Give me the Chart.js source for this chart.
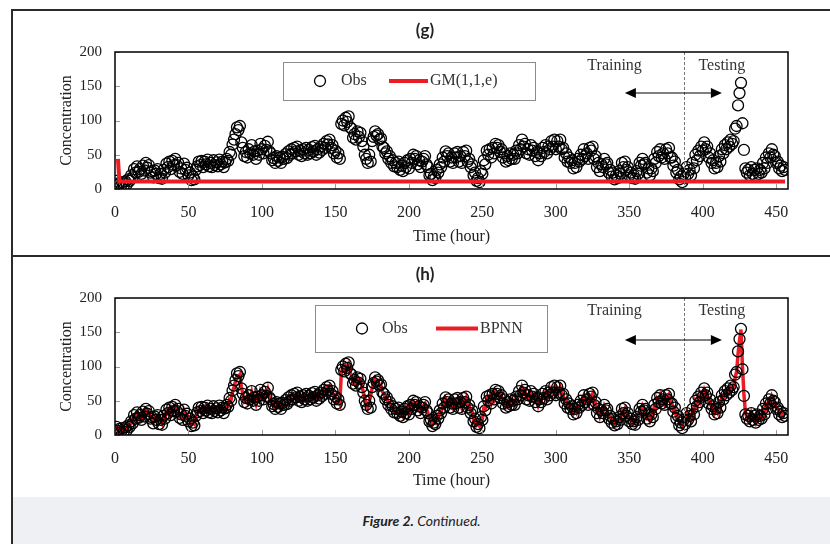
<!DOCTYPE html>
<html>
<head>
<meta charset="utf-8">
<script src="https://cdn.jsdelivr.net/npm/chart.js@4"></script>
<style>
  body { margin: 0; background: #fff; }
  #page { position: relative; width: 830px; height: 544px; overflow: hidden; }
  .frame { position: absolute; background: #2b2b2b; }
  #caption { position: absolute; left: 13px; top: 497px; width: 817px; height: 47px; background: #eef0f3;
    font-family: Lato, "Open Sans", sans-serif; font-size: 14px; font-style: italic; color: #222;
    text-align: center; line-height: 47px; }
  canvas { position: absolute; left: 0; }
</style>
</head>
<body>
<div id="page">
  <div id="caption"><b>Figure 2.</b> Continued.</div>
  <div class="frame" style="left:11px; top:9px; width:2px; height:535px;"></div>
  <div class="frame" style="left:11px; top:9px; width:819px; height:2px;"></div>
  <div class="frame" style="left:11px; top:255px; width:819px; height:2px;"></div>
  <canvas id="chartG" width="830" height="256" style="top:0;"></canvas>
  <canvas id="chartH" width="830" height="241" style="top:256px;"></canvas>
</div>
<script>
// observed concentration, hour 1..456
let obs = [
  12, 6, 9, 4, 10, 5, 11, 7, 14, 12,
  20, 17, 29, 24, 33, 25, 29, 22, 34, 27,
  38, 31, 35, 24, 26, 17, 27, 22, 29, 16,
  22, 15, 28, 24, 37, 32, 40, 29, 41, 35,
  44, 35, 38, 25, 30, 22, 37, 28, 31, 20,
  24, 13, 18, 14, 28, 33, 40, 35, 41, 32,
  40, 36, 43, 33, 38, 32, 42, 35, 39, 33,
  43, 36, 40, 32, 39, 44, 41, 54, 50, 65,
  72, 80, 90, 86, 92, 68, 60, 48, 54, 46,
  58, 52, 64, 50, 55, 44, 56, 50, 66, 58,
  52, 63, 57, 69, 55, 52, 42, 45, 38, 48,
  41, 46, 38, 47, 44, 51, 45, 55, 50, 58,
  52, 60, 55, 62, 50, 56, 48, 58, 52, 60,
  50, 57, 52, 61, 55, 63, 50, 58, 53, 62,
  57, 66, 60, 70, 65, 72, 60, 64, 52, 56,
  46, 52, 44, 95, 100, 93, 104, 98, 106, 90,
  88, 75, 80, 72, 84, 76, 82, 70, 62, 50,
  44, 38, 50, 40, 70, 76, 84, 78, 80, 72,
  74, 62, 60, 52, 55, 44, 48, 38, 42, 33,
  38, 32, 40, 28, 34, 26, 38, 32, 42, 30,
  44, 38, 50, 44, 48, 36, 42, 32, 40, 44,
  48, 36, 32, 20, 22, 13, 18, 16, 28, 24,
  36, 32, 46, 40, 55, 48, 52, 40, 46, 38,
  52, 46, 54, 40, 48, 38, 54, 48, 56, 40,
  44, 32, 36, 20, 24, 12, 16, 10, 26, 22,
  42, 36, 56, 50, 58, 46, 60, 52, 66, 60,
  64, 54, 58, 46, 52, 40, 48, 42, 52, 44,
  50, 44, 56, 52, 64, 58, 72, 62, 66, 52,
  58, 50, 64, 56, 60, 48, 54, 42, 52, 48,
  60, 54, 64, 52, 62, 58, 70, 62, 72, 58,
  70, 62, 72, 58, 60, 46, 52, 40, 46, 38,
  42, 30, 38, 32, 44, 40, 50, 44, 58, 48,
  52, 44, 60, 56, 62, 44, 48, 32, 38, 26,
  36, 32, 44, 36, 38, 24, 28, 18, 24, 14,
  20, 16, 26, 22, 38, 32, 40, 28, 32, 20,
  24, 16, 20, 15, 26, 22, 38, 34, 44, 36,
  38, 24, 30, 20, 30, 26, 44, 38, 54, 48,
  58, 46, 52, 44, 58, 52, 60, 46, 46, 34,
  40, 24, 28, 14, 18, 10, 22, 16, 32, 22,
  28, 20, 38, 30, 50, 42, 56, 48, 62, 56,
  68, 58, 62, 46, 52, 38, 42, 30, 38, 32,
  48, 40, 58, 52, 64, 58, 68, 62, 72, 66,
  70, 88, 92, 122, 140, 155, 96, 57, 30, 24,
  28, 20, 32, 22, 28, 18, 30, 22, 28, 24,
  38, 30, 46, 38, 52, 46, 58, 50, 48, 38,
  40, 30, 34, 26, 32, 28
];

// BPNN fitted values, hour 1..456
let bpnn = [
  13, 8, 9, 6, 9, 6, 10, 8, 13, 13,
  19, 18, 27, 25, 31, 26, 28, 24, 32, 28,
  36, 32, 34, 26, 25, 19, 26, 23, 27, 18,
  21, 17, 27, 25, 35, 33, 38, 31, 39, 36,
  42, 36, 37, 27, 29, 24, 35, 29, 30, 22,
  23, 15, 18, 16, 27, 33, 38, 36, 39, 33,
  39, 37, 41, 34, 37, 33, 40, 36, 38, 34,
  41, 37, 39, 34, 39, 43, 42, 52, 51, 63,
  70, 78, 86, 85, 88, 70, 60, 50, 53, 48,
  56, 53, 62, 52, 54, 46, 55, 51, 63, 58,
  53, 61, 58, 66, 56, 52, 44, 45, 40, 47,
  42, 45, 40, 46, 45, 50, 46, 54, 51, 57,
  53, 58, 56, 60, 52, 55, 50, 57, 53, 58,
  51, 56, 53, 59, 56, 61, 52, 57, 54, 60,
  58, 64, 61, 68, 65, 70, 61, 63, 54, 55,
  48, 51, 46, 90, 98, 94, 101, 98, 103, 91,
  87, 77, 79, 74, 82, 77, 80, 71, 63, 52,
  46, 40, 48, 58, 68, 75, 82, 78, 79, 73,
  72, 63, 60, 54, 54, 46, 47, 40, 41, 35,
  37, 34, 38, 30, 33, 28, 36, 33, 40, 32,
  42, 39, 48, 45, 47, 38, 41, 34, 39, 43,
  46, 38, 32, 22, 22, 15, 18, 17, 26, 25,
  34, 33, 44, 41, 53, 49, 51, 42, 45, 40,
  50, 47, 52, 42, 47, 40, 52, 48, 54, 42,
  43, 34, 35, 22, 23, 14, 16, 13, 24, 23,
  39, 38, 53, 51, 56, 48, 58, 53, 63, 60,
  62, 55, 57, 48, 51, 42, 47, 43, 50, 45,
  49, 45, 54, 53, 62, 59, 69, 63, 65, 54,
  57, 52, 62, 57, 59, 50, 53, 44, 51, 49,
  58, 55, 62, 54, 61, 59, 67, 63, 69, 60,
  67, 63, 69, 59, 59, 48, 51, 42, 45, 40,
  41, 32, 37, 33, 42, 41, 48, 45, 55, 49,
  51, 46, 58, 56, 60, 46, 47, 35, 37, 28,
  35, 33, 42, 37, 37, 26, 27, 20, 23, 16,
  19, 18, 25, 23, 36, 33, 38, 30, 31, 22,
  23, 18, 20, 17, 25, 23, 36, 34, 42, 37,
  37, 26, 29, 22, 29, 27, 42, 39, 52, 48,
  56, 47, 51, 45, 56, 53, 58, 48, 46, 36,
  39, 26, 27, 17, 18, 13, 21, 18, 30, 23,
  27, 22, 36, 31, 48, 43, 54, 49, 60, 57,
  65, 59, 61, 48, 51, 40, 41, 32, 37, 33,
  46, 41, 56, 53, 62, 59, 66, 63, 70, 67,
  70, 84, 92, 118, 138, 154, 100, 60, 33, 26,
  27, 22, 31, 24, 27, 20, 29, 23, 27, 25,
  36, 31, 44, 39, 50, 47, 56, 51, 48, 40,
  39, 32, 33, 28, 31, 29
];

// GM(1,1,e) is nearly flat after the first hours
let gmHours = [2, 3, 100, 200, 300, 400, 456];
let gmValues = [44, 11, 11, 11, 11, 11, 11];

let xTicks = [0, 50, 100, 150, 200, 250, 300, 350, 400, 450];
let yTicks = [0, 50, 100, 150, 200];
let splitHour = 387;

let red = "#ec1c24";
let serif = "'Liberation Serif', 'Times New Roman', serif";

function pts(xs, ys) {
  return ys.map((v, i) => ({ x: xs[i], y: v }));
}
let hours = obs.map((v, i) => i + 1);

// box, inner ticks, legend, training/testing marks
function decorPlugin(lineName, box, text) {
  return {
    id: "decor",
    afterDraw(chart) {
      let ctx = chart.ctx;
      let a = chart.chartArea;
      let xs = chart.scales.x, ys = chart.scales.y;
      ctx.save();
      // inner ticks
      ctx.strokeStyle = "#9a9a9a";
      ctx.lineWidth = 1;
      xTicks.forEach(t => {
        let px = Math.round(xs.getPixelForValue(t)) + 0.5;
        ctx.beginPath(); ctx.moveTo(px, a.bottom); ctx.lineTo(px, a.bottom - 5); ctx.stroke();
      });
      yTicks.forEach(t => {
        let py = Math.round(ys.getPixelForValue(t)) + 0.5;
        ctx.beginPath(); ctx.moveTo(a.left, py); ctx.lineTo(a.left + 5, py); ctx.stroke();
      });
      // split line
      let sx = Math.round(xs.getPixelForValue(splitHour)) + 0.5;
      ctx.strokeStyle = "#777";
      ctx.setLineDash([3, 2]);
      ctx.beginPath(); ctx.moveTo(sx, a.top); ctx.lineTo(sx, a.bottom); ctx.stroke();
      ctx.setLineDash([]);
      // plot box
      ctx.strokeStyle = "#000";
      ctx.lineWidth = 1.5;
      ctx.strokeRect(a.left, a.top, a.right - a.left, a.bottom - a.top);
      // training / testing
      ctx.fillStyle = "#333";
      ctx.font = "16px " + serif;
      ctx.textAlign = "center";
      ctx.textBaseline = "middle";
      ctx.fillText("Training", xs.getPixelForValue(340), a.top + text.labelY);
      ctx.fillText("Testing", xs.getPixelForValue(413), a.top + text.labelY);
      let ay = a.top + text.arrowY;
      let x1 = xs.getPixelForValue(347), x2 = xs.getPixelForValue(413);
      ctx.strokeStyle = "#000";
      ctx.lineWidth = 1.2;
      ctx.beginPath(); ctx.moveTo(x1 + 8, ay); ctx.lineTo(x2 - 8, ay); ctx.stroke();
      ctx.fillStyle = "#000";
      ctx.beginPath(); ctx.moveTo(x1, ay); ctx.lineTo(x1 + 11, ay - 5); ctx.lineTo(x1 + 11, ay + 5); ctx.fill();
      ctx.beginPath(); ctx.moveTo(x2, ay); ctx.lineTo(x2 - 11, ay - 5); ctx.lineTo(x2 - 11, ay + 5); ctx.fill();
      // legend
      ctx.strokeStyle = "#8c8c8c";
      ctx.lineWidth = 1;
      ctx.strokeRect(box.x + 0.5, box.y + 0.5, box.w, box.h);
      let my = box.y + box.h / 2;
      ctx.strokeStyle = "#000";
      ctx.lineWidth = 1.3;
      ctx.beginPath(); ctx.arc(box.circle, my, 5.5, 0, Math.PI * 2); ctx.stroke();
      ctx.fillStyle = "#333";
      ctx.font = "16px " + serif;
      ctx.textAlign = "left";
      ctx.fillText("Obs", box.obs, my);
      ctx.strokeStyle = red;
      ctx.lineWidth = 4;
      ctx.beginPath(); ctx.moveTo(box.l1, my); ctx.lineTo(box.l2, my); ctx.stroke();
      ctx.fillText(lineName, box.name, my);
      ctx.restore();
    }
  };
}

function makeChart(id, lineSet, lineName, padTop, axisH, titlePad, box, text, lineOnTop) {
  let obsSet = {
    label: "Obs",
    data: pts(hours, obs),
    showLine: false,
    pointStyle: "circle",
    pointRadius: 5.5,
    pointBorderWidth: 1.3,
    pointBorderColor: "#000",
    pointBackgroundColor: "rgba(0,0,0,0)",
    order: lineOnTop ? 2 : 1
  };
  lineSet.order = lineOnTop ? 1 : 2;
  return new Chart(document.getElementById(id), {
    type: "line",
    data: { datasets: [obsSet, lineSet] },
    options: {
      responsive: false,
      animation: false,
      events: [],
      layout: { padding: { top: padTop, right: 42, left: 0, bottom: 0 } },
      plugins: { legend: { display: false }, tooltip: { enabled: false } },
      scales: {
        x: {
          type: "linear",
          min: 0, max: 458,
          afterBuildTicks: s => { s.ticks = xTicks.map(v => ({ value: v })); },
          afterFit: s => { s.height = axisH; },
          grid: { display: false },
          border: { display: false },
          ticks: { color: "#222", font: { family: serif, size: 16 }, padding: 6, maxRotation: 0 },
          title: { display: true, text: "Time (hour)", color: "#222", font: { family: serif, size: 16 }, padding: { bottom: titlePad } }
        },
        y: {
          min: 0, max: 200,
          afterBuildTicks: s => { s.ticks = yTicks.map(v => ({ value: v })); },
          afterFit: s => { s.width = 115; },
          grid: { display: false },
          border: { display: false },
          ticks: { color: "#222", font: { family: serif, size: 15 }, padding: 5 },
          title: { display: true, text: "Concentration", color: "#222", font: { family: serif, size: 16 }, padding: { top: 57 } }
        }
      }
    },
    plugins: [decorPlugin(lineName, box, text)]
  });
}

let gmSet = {
  label: "GM(1,1,e)",
  data: pts(gmHours, gmValues),
  borderColor: red,
  borderWidth: 4,
  pointRadius: 0,
  fill: false
};
let bpnnSet = {
  label: "BPNN",
  data: pts(hours, bpnn),
  borderColor: red,
  borderWidth: 3.5,
  pointRadius: 0,
  fill: false,
  tension: 0
};

makeChart("chartG", gmSet, "GM(1,1,e)", 52, 67, 10,
  { x: 283, y: 62, w: 252, h: 38, circle: 320, obs: 341, l1: 389, l2: 428, name: 430 },
  { labelY: 14, arrowY: 41 }, true);

makeChart("chartH", bpnnSet, "BPNN", 42, 62, 7,
  { x: 315, y: 49, w: 232, h: 47, circle: 362, obs: 382, l1: 436, l2: 478, name: 480 },
  { labelY: 13, arrowY: 42 }, false);

// panel titles
function panelTitle(id, text) {
  let c = document.getElementById(id).getContext("2d");
  c.save();
  c.font = "bold 17px Lato, 'Open Sans', sans-serif";
  c.fillStyle = "#222";
  c.textAlign = "center";
  c.textBaseline = "middle";
  c.fillText(text, 425, id === "chartG" ? 31 : 19);
  c.restore();
}
panelTitle("chartG", "(g)");
panelTitle("chartH", "(h)");
</script>
</body>
</html>
